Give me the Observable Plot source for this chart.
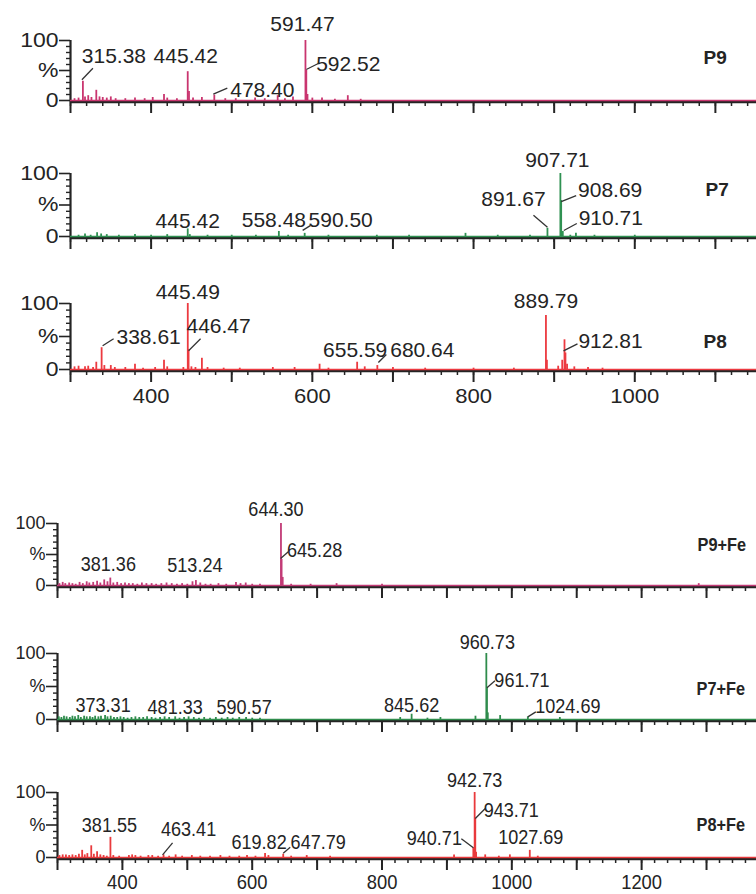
<!DOCTYPE html>
<html><head><meta charset="utf-8">
<script src="https://cdn.jsdelivr.net/npm/d3@7"></script>
<script src="https://cdn.jsdelivr.net/npm/@observablehq/plot@0.6"></script>
<style>
html,body{margin:0;padding:0;background:#fff;}
#chart{position:relative;width:756px;height:894px;overflow:hidden;background:#fff;}
</style></head><body><div id="chart"></div>
<script>
// ---------- DATA: [m/z, relative intensity %] ----------
const p9Peaks = [[305,3],[310,4],[315.38,32],[318,6],[322,8],[326,5],[332,17],[336,6],[340,5],[345,4],[350,6],[356,3],[368,3],[380,4],[392,3],[402,5],[416,10],[420,4],[432,3],[445.42,48],[447,15],[452,4],[463,5],[478.40,9],[492,3],[505,3],[529,4],[541,3],[557,8],[566,3],[576,6],[591.47,100],[592.52,50],[594,10],[600,4],[612,4],[628,2],[644,8],[660,2]];
const p7Peaks = [[310,2],[318,4],[325,2],[333,6],[338,4],[345,3],[360,2],[380,3],[400,2],[420,3],[445.42,12],[448,3],[470,2],[500,2],[530,2],[558.48,8],[570,2],[590.50,5],[620,2],[680,2],[720,2],[790,5],[830,2],[870,2],[891.67,13],[907.71,100],[908.69,57],[910.71,8],[920,2],[927,5],[950,2],[1000,2]];
const p8Peaks = [[305,4],[310,5],[318,4],[322,5],[328,3],[332,11],[338.61,33],[342,6],[350,6],[355,3],[368,3],[380,8],[390,2],[405,3],[416,14],[420,4],[440,3],[445.49,100],[446.47,30],[450,4],[455,3],[463,17],[470,3],[490,2],[510,2],[551,3],[578,3],[609,8],[620,2],[655.59,11],[665,4],[680.64,6],[700,3],[740,2],[800,2],[850,2],[889.79,82],[891,14],[905,5],[910,14],[912.81,45],[914,25],[916,8],[925,4],[942,3],[960,2]];
const p9FePeaks = [[303,3],[308,5],[312,3],[318,4],[323,3],[328,2],[334,5],[339,3],[345,6],[349,4],[355,5],[361,7],[366,4],[372,9],[377,6],[381.36,12],[386,4],[392,5],[398,3],[404,4],[410,3],[416,3],[423,2],[430,4],[437,3],[445,3],[452,2],[460,3],[468,4],[476,3],[484,2],[492,3],[500,2],[508,6],[513.24,8],[520,4],[528,2],[536,2],[548,3],[560,2],[575,5],[582,3],[590,4],[600,2],[612,2],[644.30,100],[645.28,42],[647,13],[660,2],[690,2],[730,3],[800,2],[1288,3]];
const p7FePeaks = [[302,4],[306,3],[310,5],[314,4],[319,3],[323,5],[327,4],[332,6],[336,3],[341,5],[345,4],[350,4],[354,3],[358,5],[363,4],[367,5],[373.31,6],[377,4],[382,5],[387,3],[392,3],[397,4],[402,3],[408,2],[414,3],[420,4],[426,3],[432,3],[438,4],[445,3],[451,2],[458,3],[465,4],[472,3],[481.33,4],[488,2],[495,3],[502,4],[510,3],[518,2],[526,3],[535,2],[544,3],[553,2],[562,3],[570,2],[580,3],[590.57,3],[600,2],[612,2],[828,3],[845.62,8],[870,2],[890,3],[944,5],[960.73,100],[961.71,48],[963,10],[982,6],[1024.69,4],[1074,3]];
const p8FePeaks = [[303,3],[308,4],[313,4],[318,3],[323,4],[328,3],[333,5],[338,11],[342,4],[346,6],[352,18],[356,5],[361,9],[366,4],[371,3],[376,2],[381.55,31],[386,3],[395,2],[410,3],[415,4],[420,3],[428,2],[440,3],[446,3],[455,2],[463.41,4],[472,2],[482,4],[492,2],[507,3],[520,2],[535,2],[551,3],[565,2],[580,2],[592,3],[605,2],[619.82,6],[625,3],[647.79,5],[660,2],[684,3],[720,2],[911,4],[940.71,15],[942.73,100],[943.71,60],[945,8],[959,4],[980,2],[997,4],[1027.69,11],[1040,2]];

// labelled peaks
const p9Labels = ["315.38","445.42","478.40","591.47","592.52"];
const p7Labels = ["445.42","558.48","590.50","891.67","907.71","908.69","910.71"];
const p8Labels = ["338.61","445.49","446.47","655.59","680.64","889.79","912.81"];
const p9FeLabels = ["381.36","513.24","644.30","645.28"];
const p7FeLabels = ["373.31","481.33","590.57","845.62","960.73","961.71","1024.69"];
const p8FeLabels = ["381.55","463.41","619.82","647.79","940.71","942.73","943.71","1027.69"];

// axis tick labels
const topTickLabels = [400, 600, 800, 1000];
const bottomTickLabels = [400, 600, 800, 1000, 1200];
const yTickValues = [0, 50, 100];
const yTickLabels = ["0", "%", "100"];

const panelNames = ["P9", "P7", "P8", "P9+Fe", "P7+Fe", "P8+Fe"];
const panelPeaks = [p9Peaks, p7Peaks, p8Peaks, p9FePeaks, p7FePeaks, p8FePeaks];
const panelLabels = [p9Labels, p7Labels, p8Labels, p9FeLabels, p7FeLabels, p8FeLabels];

// ---------- LAYOUT / STYLE ----------
const colors = {"P9":"#c9356f","P7":"#2f9152","P8":"#ec3a40","P9+Fe":"#c23a76","P7+Fe":"#2f8c4c","P8+Fe":"#e93a3c"};
const layout = {
  "P9":    {top:0,   height:133, y100:40,  y0:100, left:70, xMax:1151, group:"top",    axisLabels:false, title:[703,50]},
  "P7":    {top:133, height:133, y100:173, y0:236, left:70, xMax:1151, group:"top",    axisLabels:false, title:[705,182]},
  "P8":    {top:266, height:150, y100:303, y0:369, left:70, xMax:1151, group:"top",    axisLabels:true,  title:[703,334]},
  "P9+Fe": {top:480, height:133, y100:523, y0:585, left:57, xMax:1377, group:"bottom", axisLabels:false, title:[697,537]},
  "P7+Fe": {top:613, height:133, y100:653, y0:719, left:57, xMax:1377, group:"bottom", axisLabels:false, title:[696,681]},
  "P8+Fe": {top:746, height:148, y100:792, y0:857, left:57, xMax:1377, group:"bottom", axisLabels:true,  title:[696,817]}
};
// label text offset t:[dx,dy] px from peak top; leader l:[x1,y1,x2,y2] px from peak top
const labelLayout = {
  "P9": {"315.38":{t:[31,-25],l:[-1,-1.5,10,-13]},"445.42":{t:[-2,-15]},"478.40":{t:[48,-5],l:[-1,-1,13,-7]},"591.47":{t:[-3,-16]},"592.52":{t:[42,-6],l:[0,-1,12,-7]}},
  "P7": {"907.71":{t:[-3,-13]},"908.69":{t:[49,-10],l:[0,1,15,-5]},"910.71":{t:[48,-13],l:[1,-1,14,-8]},"891.67":{t:[-34,-29],l:[0,-1,-14,-13]},"445.42":{t:[0,-8]},"558.48":{t:[-5,-11]},"590.50":{t:[36,-13],l:[-2,-3,6,-8]}},
  "P8": {"445.49":{t:[0,-11]},"446.47":{t:[30,-23],l:[0,1,12,-11]},"338.61":{t:[47,-10],l:[1,-2,12,-9]},"889.79":{t:[0,-14]},"912.81":{t:[46,1],l:[-1,11,13,4]},"655.59":{t:[-2,-12]},"680.64":{t:[45,-15],l:[1,-3,9,-11]}},
  "P9+Fe": {"644.30":{t:[-5,-14]},"645.28":{t:[33,-9],l:[-1,-1,7,-8]},"381.36":{t:[-2,-14]},"513.24":{t:[-1,-15]}},
  "P7+Fe": {"960.73":{t:[1,-11]},"961.71":{t:[35,-8],l:[0,0,8,-7]},"1024.69":{t:[40,-11],l:[0,0,8,-5]},"845.62":{t:[0,-9]},"373.31":{t:[-2,-10]},"481.33":{t:[0,-10]},"590.57":{t:[-2,-10]}},
  "P8+Fe": {"942.73":{t:[0,-12]},"943.71":{t:[36,-8],l:[0,0,10,-10]},"940.71":{t:[-39,-9],l:[0,0,-12,-9]},"1027.69":{t:[1,-13]},"381.55":{t:[-1,-12]},"463.41":{t:[25,-26],l:[-1,0,9,-12]},"619.82":{t:[-6,-11]},"647.79":{t:[35,-12],l:[0,-1,7,-7]}}
};
const sans = "'Liberation Sans', Arial, Helvetica, sans-serif";
const fonts = {
  top:    {labelSize:21, tickSize:21, tickPad:6, ySize:20, titleSize:19, textScale:1.0,  tickScale:1.05, yScale:1.15},
  bottom: {labelSize:21, tickSize:20, tickPad:4, ySize:18, titleSize:19, textScale:0.86, tickScale:0.92, yScale:1.0}
};
const ink = "#242424";

const chart = document.getElementById("chart");

// horizontal squeeze/stretch of text about its anchor (reference text is condensed/stretched)
function scaleTexts(svg, selector, s) {
  if (s === 1) return;
  svg.querySelectorAll(selector).forEach(el => {
    const t = el.getAttribute("transform");
    if (t) el.setAttribute("transform", t + ` scale(${s},1)`);
    else {
      const x = +el.getAttribute("x") || 0, y = +el.getAttribute("y") || 0;
      el.removeAttribute("x"); el.removeAttribute("y");
      el.setAttribute("transform", `translate(${x},${y}) scale(${s},1)`);
    }
  });
}

panelNames.forEach((name, idx) => {
  const L = layout[name];
  const F = fonts[L.group];
  const peaks = panelPeaks[idx];
  const color = colors[name];
  const kx = (756 - L.left) / (L.xMax - 300);
  const ky = (L.y0 - L.y100) / 100;
  const tickLabels = L.group === "top" ? topTickLabels : bottomTickLabels;
  const pctOf = new Map(peaks.map(d => [d[0].toFixed(2), d[1]]));

  const marks = [
    Plot.ruleY([0], {stroke: ink, strokeWidth: 2.2, dy: 1.6}),
    Plot.axisX({ticks: d3.range(300, L.xMax, 20), tickSize: 6, tickFormat: () => "", stroke: ink, strokeWidth: 1.5, tickPadding: 0}),
    Plot.axisX({ticks: d3.range(300, L.xMax, 100), tickSize: 13, stroke: ink, strokeWidth: 2, tickPadding: F.tickPad,
      tickFormat: d => (L.axisLabels && tickLabels.includes(d)) ? String(d) : "",
      fontSize: F.tickSize, fontFamily: sans, fill: ink}),
    Plot.axisY({ticks: d3.range(0, 101, 10).filter(d => !yTickValues.includes(d)), tickSize: 4, tickFormat: () => "", stroke: ink, strokeWidth: 1.4}),
    Plot.axisY({ticks: yTickValues, tickSize: 11, tickPadding: 1, stroke: ink, strokeWidth: 1.6,
      tickFormat: (d) => yTickLabels[yTickValues.indexOf(d)], fontSize: F.ySize, fontFamily: sans, fill: ink}),
    Plot.ruleX([300], {y1: 0, y2: 100, stroke: ink, strokeWidth: 2.2}),
    Plot.ruleX(peaks, {x: d => d[0], y1: 0, y2: d => d[1], stroke: color, strokeWidth: 1.8}),
    Plot.ruleY([0], {stroke: color, strokeWidth: 1.6})
  ];

  const leaders = [];
  panelLabels[idx].forEach(lab => {
    const mz = +lab;
    const pct = pctOf.get(mz.toFixed(2));
    const o = labelLayout[name][lab];
    marks.push(Plot.text([{mz, pct, lab}], {x: "mz", y: "pct", text: "lab", dx: o.t[0], dy: o.t[1],
      fontSize: F.labelSize, fontFamily: sans, fill: ink}));
    if (o.l) leaders.push({x1: mz + o.l[0] / kx, y1: pct - o.l[1] / ky, x2: mz + o.l[2] / kx, y2: pct - o.l[3] / ky});
  });
  marks.push(Plot.link(leaders, {x1: "x1", y1: "y1", x2: "x2", y2: "y2", stroke: "#333", strokeWidth: 1.3}));
  marks.push(Plot.text([name], {text: d => d, frameAnchor: "top-left", dx: L.title[0] - L.left, dy: L.title[1] - L.y100,
    fontWeight: "bold", fontSize: F.titleSize, fontFamily: sans, fill: ink}));

  const svg = Plot.plot({
    width: 756,
    height: L.height,
    marginLeft: L.left,
    marginRight: 0,
    marginTop: L.y100 - L.top,
    marginBottom: L.top + L.height - L.y0,
    x: {type: "linear", domain: [300, L.xMax]},
    y: {type: "linear", domain: [0, 100]},
    style: {background: "transparent", overflow: "visible"},
    marks
  });
  scaleTexts(svg, 'g[aria-label="text"] text', F.textScale);
  scaleTexts(svg, 'g[aria-label="x-axis tick label"] text', F.tickScale);
  scaleTexts(svg, 'g[aria-label="y-axis tick label"] text', F.yScale);
  svg.style.position = "absolute";
  svg.style.left = "0px";
  svg.style.top = L.top + "px";
  chart.appendChild(svg);
});
</script></body></html>
